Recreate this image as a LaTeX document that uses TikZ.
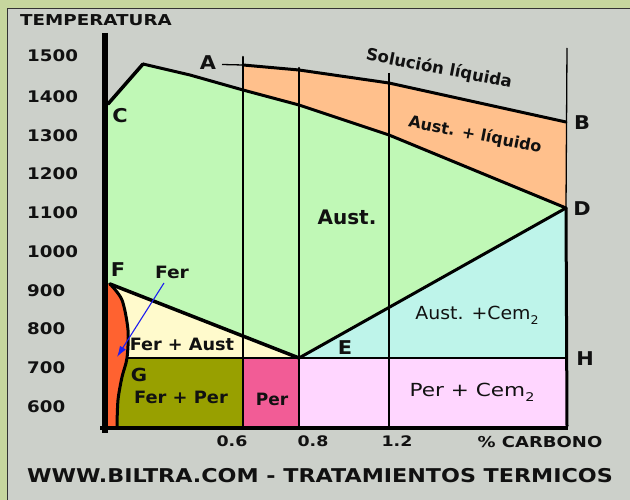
\documentclass[tikz,border=0pt]{standalone}
\usepackage{fontspec}
\usepackage{graphicx}
\setmainfont{DejaVu Sans}
\usetikzlibrary{arrows.meta}
\definecolor{band}{RGB}{198,214,158}
\definecolor{panel}{RGB}{204,208,202}
\definecolor{aust}{RGB}{192,248,182}
\definecolor{liq}{RGB}{255,192,140}
\definecolor{cem}{RGB}{190,244,234}
\definecolor{pcem}{RGB}{255,214,255}
\definecolor{perc}{RGB}{242,92,150}
\definecolor{fperc}{RGB}{152,160,0}
\definecolor{fac}{RGB}{255,250,204}
\definecolor{ferc}{RGB}{255,98,48}
\definecolor{arrowblue}{RGB}{30,30,240}
\definecolor{ink}{RGB}{17,17,17}
\newcommand{\sx}[2]{\scalebox{#1}[1]{#2}}
\newcommand{\subtwo}{\raisebox{-5pt}{\fontsize{12}{12}\selectfont 2}}
\tikzset{
  bt/.style={inner sep=0pt, text=ink, font=\bfseries\fontsize{#1}{#1}\selectfont},
  rt/.style={inner sep=0pt, text=ink, font=\fontsize{#1}{#1}\selectfont},
  ylab/.style={bt=16, anchor=west},
  pt/.style={bt=19},
  heavy/.style={draw=black, line width=#1, line join=round, line cap=round},
}
\begin{document}
\begin{tikzpicture}[x=1pt,y=-1pt]
\useasboundingbox (0,0) rectangle (630,500);
% background
\fill[band] (0,0) rectangle (630,500);
\fill[panel] (7,8) rectangle (630,500);
\draw[line width=1.5, black!80] (7.5,500) -- (7.5,8.5) -- (630,8.5);

% key points
\coordinate (C) at (108,104);
\coordinate (P) at (143,64);
\coordinate (s1) at (190,75);
\coordinate (s2) at (243,90);
\coordinate (s3) at (299,105);
\coordinate (s4) at (389,135);
\coordinate (D) at (566,208);
\coordinate (l0) at (243,65);
\coordinate (l1) at (299,70);
\coordinate (l2) at (389,83);
\coordinate (B) at (566,122);
\coordinate (F) at (110,284);
\coordinate (Fa) at (108,284);
\coordinate (E) at (299,358);
\coordinate (H) at (566,358);
\coordinate (G0) at (127,358);
\coordinate (K) at (117,426);
\coordinate (Ka) at (108,426);
\coordinate (x6t) at (243,57);
\coordinate (x6b) at (243,426);
\coordinate (x6m) at (243,358);
\coordinate (x8t) at (299,68);
\coordinate (x8b) at (299,426);
\coordinate (x12t) at (389,73);
\coordinate (x12b) at (389,426);
\coordinate (Rt) at (567,48);
\coordinate (Rb) at (567,426);
\coordinate (Hb) at (566,426);

% region fills
\fill[aust] (C) -- (P) -- (s1) -- (s2) -- (s3) -- (s4) -- (D) -- (E) -- (F) -- (Fa) -- cycle;
\fill[liq] (l0) -- (l1) -- (l2) -- (B) -- (D) -- (s4) -- (s3) -- (s2) -- cycle;
\fill[cem] (E) -- (D) -- (H) -- cycle;
\fill[perc] (x6m) rectangle (x8b);
\fill[pcem] (E) rectangle (Hb);
\fill[ferc] (Fa) -- (F) -- (122,300) -- (128,330) -- (127,358) -- (122,377) -- (118,400) -- (K) -- (Ka) -- cycle;
\fill[fac] plot[smooth] coordinates {(110,284) (122,300) (128,330) (127,358)} -- (E) -- cycle;
\fill[fperc] plot[smooth] coordinates {(127,358) (122,377) (118,400) (117,426)} -- (x6b) -- (x6m) -- cycle;

% vertical composition lines
\draw[heavy=2.5] (x6t) -- (x6b);
\draw[heavy=2.2] (x8t) -- (x8b);
\draw[black, line width=1.2] (x12t) -- (l2);
\draw[heavy=2.2] (l2) -- (x12b);
\draw[black, line width=1.3] (Rt) -- (D);
\draw[heavy=3] (D) -- (Rb);

% phase boundaries
\draw[heavy=3.5] (C) -- (P);
\draw[heavy=3] (P) -- (s1) -- (s2) -- (s3) -- (s4) -- (D);
\draw[heavy=3] (l0) -- (l1) -- (l2) -- (B);
\draw[black, line width=1.3] (222,64.5) -- (l0);
\draw[heavy=3.5] (F) -- (E);
\draw[heavy=3] (E) -- (D);
\draw[heavy=2.6] (G0) -- (H);
\draw[heavy=3] plot[smooth] coordinates {(110,284) (122,300) (128,330) (127,358) (122,377) (118,400) (117,426)};

% axes
\draw[black, line width=6] (105,33) -- (105,433);
\draw[black, line width=4.5] (100,428) -- (568,428);

% arrow to ferrite
\node[bt=17] (fer) at (172,272) {\sx{1.1}{Fer}};
\coordinate (ftip) at (117,357);
\draw[arrowblue, line width=1.1, -{Latex[length=11pt,width=7pt]}] (164,283) -- (ftip);

% axis texts
\node[bt=15] (temp) at (96,20) {\sx{1.22}{TEMPERATURA}};
\node[ylab] (t1500) at (27,56) {\sx{1.14}{1500}};
\node[ylab] (t1400) at (27,97) {\sx{1.14}{1400}};
\node[ylab] (t1300) at (27,135.5) {\sx{1.14}{1300}};
\node[ylab] (t1200) at (27,174) {\sx{1.14}{1200}};
\node[ylab] (t1100) at (27,213) {\sx{1.14}{1100}};
\node[ylab] (t1000) at (27,252) {\sx{1.14}{1000}};
\node[ylab] (t900) at (27,291) {\sx{1.14}{900}};
\node[ylab] (t800) at (27,329) {\sx{1.14}{800}};
\node[ylab] (t700) at (27,368) {\sx{1.14}{700}};
\node[ylab] (t600) at (27,407) {\sx{1.14}{600}};
\node[bt=14.5] (c06) at (232,441) {\sx{1.2}{0.6}};
\node[bt=14.5] (c08) at (313,441) {\sx{1.2}{0.8}};
\node[bt=14.5] (c12) at (397,441) {\sx{1.2}{1.2}};
\node[bt=15] (carb) at (540,442) {\sx{1.2}{\% CARBONO}};
\node[bt=19] (title) at (320,476) {\sx{1.17}{WWW.BILTRA.COM - TRATAMIENTOS TERMICOS}};

% point letters
\node[pt] (lA) at (208,63) {\sx{1.1}{A}};
\node[pt] (lB) at (582,123) {\sx{1.1}{B}};
\node[pt] (lC) at (120,116) {\sx{1.1}{C}};
\node[pt] (lD) at (582,209) {\sx{1.1}{D}};
\node[pt] (lE) at (345,348) {\sx{1.1}{E}};
\node[pt] (lF) at (118,270) {\sx{1.1}{F}};
\node[bt=18] (lG) at (139,375) {\sx{1.1}{G}};
\node[pt] (lH) at (585,359) {\sx{1.1}{H}};

% region labels
\node[bt=16.5, rotate=-11] (sol) at (439,69) {Solución líquida};
\node[bt=16, rotate=-11] (al) at (475,135) {Aust. + líquido};
\node[bt=20] (au) at (347,217) {Aust.};
\node[rt=18] (ac) at (477,315) {\sx{1.05}{Aust. +Cem\subtwo}};
\node[bt=17] (fa) at (182,344) {\sx{1.04}{Fer + Aust}};
\node[bt=17] (fp) at (181,397) {\sx{1.05}{Fer + Per}};
\node[bt=17] (pe) at (272,399) {Per};
\node[rt=18] (pc) at (472,392) {\sx{1.2}{Per + Cem\subtwo}};
\end{tikzpicture}
\end{document}
